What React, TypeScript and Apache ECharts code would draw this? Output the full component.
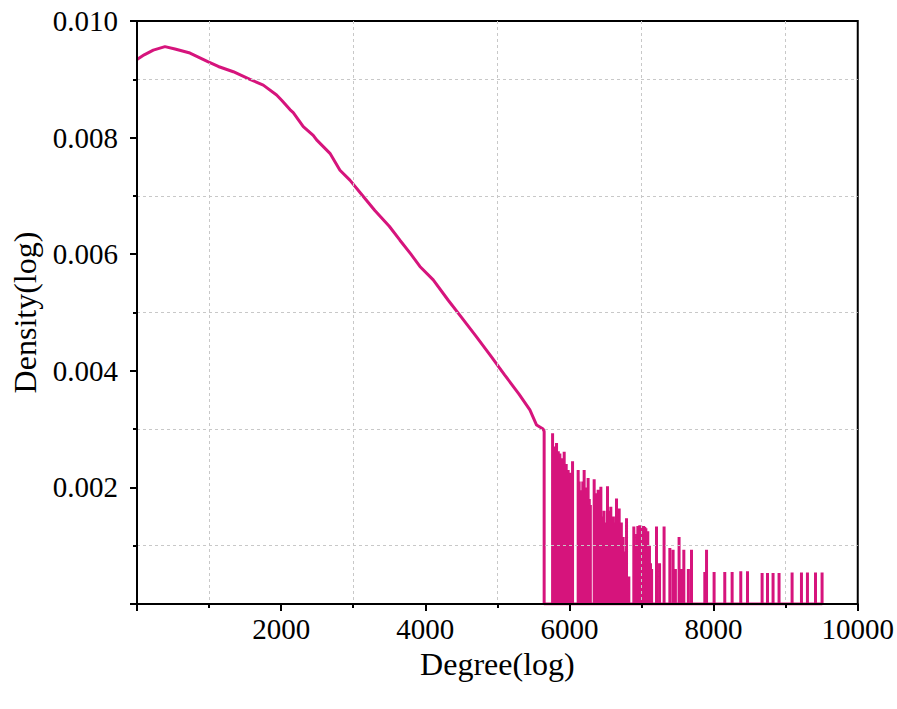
import React, { useEffect, useRef } from "react";
import * as echarts from "echarts";

const curveX = [0, 100, 226, 388, 527, 735, 989, 1128, 1336, 1567, 1752, 1937, 2007, 2122, 2168, 2307, 2445, 2492, 2677, 2816, 2954, 3100, 3300, 3500, 3648, 3800, 3925, 4110, 4318, 4500, 4700, 4900, 5100, 5300, 5451, 5544, 5635, 5649];
const curveY = [0.00934, 0.00942, 0.0095, 0.00956, 0.00952, 0.00945, 0.0093, 0.00922, 0.00913, 0.009, 0.0089, 0.00873, 0.00864, 0.00848, 0.00843, 0.00819, 0.00804, 0.00796, 0.00773, 0.00744, 0.00727, 0.00705, 0.00675, 0.00648, 0.00624, 0.006, 0.00579, 0.00556, 0.00521, 0.00492, 0.0046, 0.00427, 0.00393, 0.0036, 0.00333, 0.00307, 0.003, 0.00296];

const spikeX = [
  5766, 5778, 5790, 5805, 5821, 5833, 5845, 5856, 5867, 5880, 5900, 5914, 5927, 5941, 5955, 5968, 5982, 5996, 6010, 6025, 6043,
  6121, 6135, 6150, 6170, 6185, 6204, 6218, 6230, 6245, 6259, 6275, 6290,
  6343, 6356, 6370, 6385, 6398, 6415, 6436, 6460, 6480, 6500, 6528, 6545, 6560, 6574, 6590, 6610, 6630, 6653, 6670, 6690, 6705, 6720, 6745, 6770, 6792, 6824,
  6893, 6915, 6935, 6949, 6962, 6975, 6988, 7000, 7015, 7030, 7045, 7060, 7074, 7087, 7100, 7110, 7125, 7140,
  7208, 7250, 7313, 7393, 7438, 7470, 7521, 7550, 7587, 7650, 7693, 7878, 7902,
  8007, 8155, 8257, 8377, 8470, 8673, 8748, 8825, 8908, 9089, 9219, 9302, 9414, 9505,
];
const spikeY = [
  0.00293, 0.0025, 0.0027, 0.0026, 0.00276, 0.0025, 0.00262, 0.0024, 0.00258, 0.0023, 0.0025, 0.0022, 0.00261, 0.0023, 0.0024, 0.0021, 0.0023, 0.002, 0.00225, 0.0019, 0.00245,
  0.0023, 0.0021, 0.0018, 0.00195, 0.0021, 0.0023, 0.002, 0.0019, 0.002, 0.00216, 0.0018, 0.0017,
  0.00214, 0.0019, 0.0018, 0.0019, 0.00196, 0.0017, 0.00201, 0.0015, 0.0016, 0.0014, 0.00202, 0.0016, 0.0015, 0.00167, 0.0013, 0.0015, 0.0014, 0.00181, 0.0014, 0.00164, 0.0012, 0.0014, 0.00115, 0.0009, 0.00147, 0.00047,
  0.00133, 0.001, 0.0012, 0.00134, 0.00134, 0.00135, 0.00135, 0.00134, 0.00134, 0.00134, 0.00132, 0.0013, 0.0012, 0.00125, 0.0009, 0.001, 0.0007, 0.0006,
  0.00133, 0.0007, 0.00133, 0.00096, 0.00093, 0.0006, 0.00115, 0.0006, 0.00093, 0.0006, 0.00093, 0.00055, 0.00093,
  0.00055, 0.00055, 0.00055, 0.00056, 0.00056, 0.00053, 0.00053, 0.00053, 0.00053, 0.00054, 0.00054, 0.00054, 0.00054, 0.00054,
];

const xTicks = [0, 2000, 4000, 6000, 8000, 10000];
const yTicks = [0, 0.002, 0.004, 0.006, 0.008, 0.01];

const FONT = "'Liberation Serif', 'Times New Roman', serif";
const COLOR = "#D6147C";

export default function App() {
  const ref = useRef<HTMLDivElement>(null);
  useEffect(() => {
    if (!ref.current) return;
    const chart = echarts.init(ref.current, undefined, { renderer: "svg" });
    const data: (number[])[] = curveX.map((x, i) => [x, curveY[i]]);
    data.push([curveX[curveX.length - 1], 0]);
    spikeX.forEach((x, i) => {
      data.push([x, 0]);
      data.push([x, spikeY[i]]);
      data.push([x, 0]);
    });
    const axisCommon = {
      type: "value" as const,
      z: 10,
      axisLine: { show: true, onZero: false, lineStyle: { color: "#000", width: 2 } },
      axisTick: { show: true, length: 7, lineStyle: { color: "#000", width: 2 } },
      minorTick: { show: true, splitNumber: 2, length: 4, lineStyle: { color: "#000", width: 2 } },
      splitLine: { show: false },
      minorSplitLine: { show: true, lineStyle: { color: "#c8c8c8", width: 1, type: [3, 3] } },
    };
    chart.setOption({
      animation: false,
      backgroundColor: "#fff",
      grid: {
        left: 137,
        top: 21,
        width: 721,
        height: 583,
        show: true,
        borderColor: "#000",
        borderWidth: 2,
        backgroundColor: "transparent",
      },
      xAxis: {
        ...axisCommon,
        min: xTicks[0],
        max: xTicks[xTicks.length - 1],
        interval: xTicks[1] - xTicks[0],
        axisLabel: {
          formatter: (v: number) => (v === 0 ? "" : String(v)),
          fontSize: 29,
          fontFamily: FONT,
          color: "#000",
          margin: 10,
        },
        name: "Degree(log)",
        nameLocation: "middle",
        nameGap: 34,
        nameTextStyle: { fontSize: 32, fontFamily: FONT, color: "#000" },
      },
      yAxis: {
        ...axisCommon,
        min: yTicks[0],
        max: yTicks[yTicks.length - 1],
        interval: yTicks[1] - yTicks[0],
        axisLabel: {
          formatter: (v: number) => (v === 0 ? "" : v.toFixed(3)),
          fontSize: 29,
          fontFamily: FONT,
          color: "#000",
          margin: 19,
        },
        name: "Density(log)",
        nameLocation: "middle",
        nameGap: 96,
        nameTextStyle: { fontSize: 32, fontFamily: FONT, color: "#000" },
      },
      series: [
        {
          type: "line",
          data,
          showSymbol: false,
          clip: true,
          z: 2,
          lineStyle: { color: COLOR, width: 3 },
          itemStyle: { color: COLOR },
        },
      ],
    });
    return () => chart.dispose();
  }, []);
  return (
    <div
      ref={ref}
      style={{ position: "absolute", left: 0, top: 0, width: 897, height: 709 }}
    />
  );
}
